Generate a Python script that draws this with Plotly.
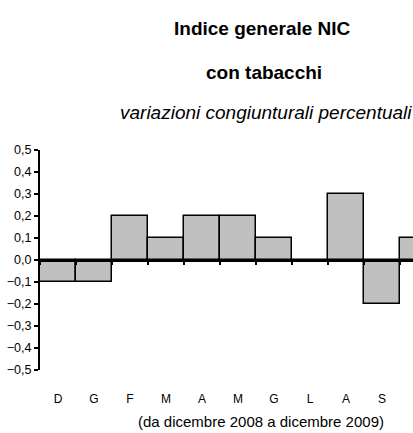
import plotly.graph_objects as go

months = ["D", "G", "F", "M", "A", "M", "G", "L", "A", "S", "O"]
values = [-0.1, -0.1, 0.2, 0.1, 0.2, 0.2, 0.1, 0.0, 0.3, -0.2, 0.1]
y_ticks = [-0.5, -0.4, -0.3, -0.2, -0.1, 0.0, 0.1, 0.2, 0.3, 0.4, 0.5]

title1 = "Indice generale NIC"
title2 = "con tabacchi"
subtitle = "variazioni congiunturali percentuali"
period = "(da dicembre 2008 a dicembre 2009)"

x = list(range(len(months)))
font_main = "Liberation Sans, Arial, sans-serif"

W, H = 413, 433
L_M, T_M, B_M = 40, 150, 63
PW, PH = W - L_M, H - T_M - B_M
cat_px = 36.0
x_end = -0.5 + PW / cat_px


def px_x(px):
    return (px - L_M) / PW


def px_y(py):
    return (H - B_M - py) / PH


fig = go.Figure()
fig.add_trace(go.Bar(
    x=x, y=values,
    marker=dict(color="#c0c0c0", line=dict(color="black", width=1.5)),
    width=1.0,
))
# invisible trace to activate the zero-line axis
fig.add_trace(go.Scatter(x=[0], y=[0], xaxis="x2", mode="markers",
                         marker=dict(opacity=0), hoverinfo="skip"))

fig.update_layout(
    width=W, height=H,
    margin=dict(l=L_M, r=0, t=T_M, b=B_M),
    paper_bgcolor="white", plot_bgcolor="white",
    separators=",.",
    showlegend=False,
    bargap=0,
    font=dict(family=font_main, color="black"),
    xaxis=dict(
        range=[-0.5, x_end],
        tickvals=x, ticktext=months,
        showline=False, showgrid=False, zeroline=False,
        ticks="", ticklabelstandoff=20,
        tickfont=dict(size=12),
    ),
    xaxis2=dict(
        overlaying="x", anchor="free", position=0.5,
        range=[-0.5, x_end], side="bottom",
        tickvals=[i - 0.5 for i in range(len(months) + 1)],
        showticklabels=False, ticks="outside", ticklen=3, tickwidth=1.5,
        tickcolor="black",
        showline=True, linecolor="black", linewidth=2.5,
        showgrid=False, zeroline=False,
    ),
    yaxis=dict(
        range=[-0.5, 0.5],
        tickvals=y_ticks, tickformat=".1f",
        showline=True, linecolor="black", linewidth=2,
        ticks="outside", ticklen=4, tickwidth=2, tickcolor="black",
        showgrid=False, zeroline=False,
        tickfont=dict(size=12.5),
    ),
)

fig.add_annotation(text="<b>" + title1 + "</b>", xref="paper", yref="paper",
                   x=px_x(262), y=px_y(29), xanchor="center", yanchor="middle",
                   showarrow=False, font=dict(size=19))
fig.add_annotation(text="<b>" + title2 + "</b>", xref="paper", yref="paper",
                   x=px_x(264), y=px_y(72), xanchor="center", yanchor="middle",
                   showarrow=False, font=dict(size=19))
fig.add_annotation(text="<i>" + subtitle + "</i>", xref="paper", yref="paper",
                   x=px_x(266), y=px_y(112), xanchor="center", yanchor="middle",
                   showarrow=False, font=dict(size=19))
fig.add_annotation(text=period, xref="paper", yref="paper",
                   x=px_x(261), y=px_y(421), xanchor="center", yanchor="middle",
                   showarrow=False, font=dict(size=15))
# last, partially visible month label
fig.add_annotation(text=months[-1], xref="paper", yref="paper",
                   x=px_x(L_M + (x[-1] + 0.5) * cat_px - 1), y=px_y(397),
                   xanchor="center", yanchor="middle",
                   showarrow=False, font=dict(size=12))

fig.write_html("out.html", config={"displayModeBar": False},
               post_script="document.body.style.margin='0';")
